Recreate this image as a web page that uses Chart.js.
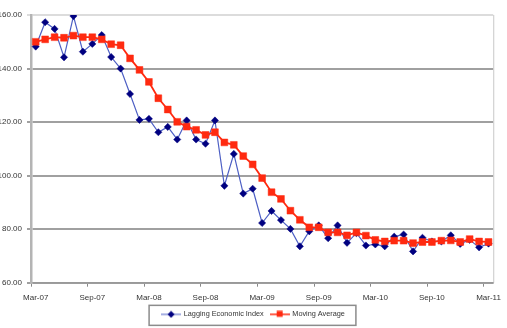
<!DOCTYPE html>
<html>
<head>
<meta charset="utf-8">
<script src="https://cdn.jsdelivr.net/npm/chart.js@4"></script>
<style>
  html, body { margin: 0; padding: 0; background: #fff; overflow: hidden; }
  #wrap { width: 507px; height: 328px; position: relative; }
</style>
</head>
<body>
<div id="wrap"><canvas id="chart" width="507" height="328"></canvas></div>
<script>
const months = [
    'Mar-07', 'Apr-07', 'May-07', 'Jun-07', 'Jul-07', 'Aug-07', 'Sep-07', 'Oct-07', 'Nov-07', 'Dec-07',
    'Jan-08', 'Feb-08', 'Mar-08', 'Apr-08', 'May-08', 'Jun-08', 'Jul-08', 'Aug-08', 'Sep-08', 'Oct-08',
    'Nov-08', 'Dec-08', 'Jan-09', 'Feb-09', 'Mar-09', 'Apr-09', 'May-09', 'Jun-09', 'Jul-09', 'Aug-09',
    'Sep-09', 'Oct-09', 'Nov-09', 'Dec-09', 'Jan-10', 'Feb-10', 'Mar-10', 'Apr-10', 'May-10', 'Jun-10',
    'Jul-10', 'Aug-10', 'Sep-10', 'Oct-10', 'Nov-10', 'Dec-10', 'Jan-11', 'Feb-11', 'Mar-11'
];

const laggingIndex = [
    148.2, 157.3, 154.8, 144.2, 159.6, 146.3, 149.2, 152.5, 144.3, 140.0,
    130.5, 120.8, 121.2, 116.2, 118.2, 113.5, 120.6, 113.5, 111.9, 120.6,
    96.2, 108.1, 93.3, 95.1, 82.3, 86.8, 83.4, 80.1, 73.6, 79.2,
    81.4, 76.6, 81.4, 74.9, 78.5, 73.9, 74.3, 73.6, 77.2, 78.0,
    71.7, 76.8, 75.4, 75.4, 77.7, 74.5, 76.0, 73.2, 74.6
];

const movingAverage = [
    150.0, 150.9, 151.7, 151.5, 152.3, 151.7, 151.7, 150.9, 149.1, 148.7,
    143.8, 139.5, 135.0, 128.9, 124.7, 120.1, 118.3, 117.1, 115.2, 116.2,
    112.4, 111.5, 107.3, 104.2, 99.1, 93.8, 91.3, 86.9, 83.5, 80.7,
    80.7, 78.8, 78.8, 77.7, 78.8, 77.6, 76.0, 75.4, 75.7, 75.7,
    74.8, 75.2, 75.2, 75.7, 75.8, 75.2, 76.3, 75.4, 75.2
];

const seriesNames = ['Lagging Economic Index', 'Moving Average'];

const BLUE_LINE = '#4d5fc4';
const BLUE_MARK = '#000080';
const RED = '#ff2a10';

// small legend icons: a line with the marker in the middle, like Excel
const legendIcon = (lineColor, markColor, shape) => {
    const c = document.createElement('canvas');
    c.width = 20;
    c.height = 8;
    const g = c.getContext('2d');
    g.strokeStyle = lineColor;
    g.lineWidth = shape === 'square' ? 1.5 : 1;
    g.beginPath();
    g.moveTo(0, 4);
    g.lineTo(20, 4);
    g.stroke();
    g.fillStyle = markColor;
    g.beginPath();
    if (shape === 'square') {
        g.rect(7, 0.5, 6, 6);
    } else {
        g.moveTo(10, 0.5);
        g.lineTo(13.5, 4);
        g.lineTo(10, 7.5);
        g.lineTo(6.5, 4);
        g.closePath();
    }
    g.fill();
    return c;
};

const frame = {
    id: 'frame',
    beforeDraw(chart) {
        // nudge the legend so it sits centred like the original
        const lg = chart.legend;
        if (!lg._nudged) {
            lg.left += 5;
            lg.right += 5;
            lg.legendHitBoxes.forEach(b => { b.left += 5; });
            lg._nudged = true;
        }
    },
    beforeDatasetsDraw(chart) {
        const { ctx, chartArea } = chart;
        ctx.save();
        ctx.strokeStyle = '#c8c8c8';
        ctx.lineWidth = 1;
        ctx.beginPath();
        ctx.moveTo(chartArea.right + 0.5, chartArea.top);
        ctx.lineTo(chartArea.right + 0.5, chartArea.bottom);
        ctx.stroke();
        ctx.restore();
    },
    afterDraw(chart) {
        const boxes = chart.legend.legendHitBoxes;
        if (!boxes || !boxes.length) return;
        const left = Math.min(...boxes.map(b => b.left)) - 13;
        const right = Math.max(...boxes.map(b => b.left + b.width)) + 11;
        const mid = boxes[0].top + boxes[0].height / 2 + 1;
        const ctx = chart.ctx;
        ctx.save();
        ctx.strokeStyle = '#8c8c8c';
        ctx.lineWidth = 1.5;
        ctx.strokeRect(left, mid - 10, right - left, 20);
        ctx.restore();
    }
};

const ctx = document.getElementById('chart').getContext('2d');
new Chart(ctx, {
    type: 'line',
    data: {
        labels: months,
        datasets: [{
            label: seriesNames[0],
            data: laggingIndex,
            borderColor: BLUE_LINE,
            borderWidth: 1.2,
            pointStyle: 'rectRot',
            pointRadius: 3.6,
            pointBackgroundColor: BLUE_MARK,
            pointBorderColor: BLUE_MARK,
            pointBorderWidth: 0.5,
            tension: 0,
            order: 2
        }, {
            label: seriesNames[1],
            data: movingAverage,
            borderColor: RED,
            borderWidth: 1.8,
            pointStyle: 'rect',
            pointRadius: 4.8,
            pointBackgroundColor: RED,
            pointBorderColor: RED,
            pointBorderWidth: 0.5,
            tension: 0,
            order: 1
        }]
    },
    options: {
        responsive: false,
        animation: false,
        events: [],
        layout: {
            padding: { top: 15, right: 10, left: 0, bottom: 0 }
        },
        plugins: {
            tooltip: { enabled: false },
            legend: {
                position: 'bottom',
                labels: {
                    usePointStyle: true,
                    pointStyleWidth: 18,
                    boxHeight: 7,
                    padding: 7,
                    color: '#333',
                    font: { family: 'Arial, "Liberation Sans"', size: 7.3 },
                    sort: (a, b) => a.datasetIndex - b.datasetIndex,
                    generateLabels: (chart) => chart.data.datasets.map((ds, i) => ({
                        text: ds.label,
                        datasetIndex: i,
                        pointStyle: i === 0 ? legendIcon(BLUE_LINE, BLUE_MARK, 'diamond') : legendIcon(RED, RED, 'square'),
                        fillStyle: 'transparent',
                        strokeStyle: 'transparent',
                        lineWidth: 0,
                        fontColor: '#333'
                    }))
                }
            }
        },
        scales: {
            x: {
                offset: true,
                afterFit: (scale) => { scale.height = 21; },
                grid: {
                    offset: true,
                    drawOnChartArea: false,
                    tickLength: 4,
                    color: (c) => (c.index % 6 === 0 ? '#888' : 'rgba(0,0,0,0)')
                },
                border: { color: '#999', width: 1.5 },
                ticks: {
                    autoSkip: false,
                    maxRotation: 0,
                    padding: 6,
                    color: '#333',
                    font: { family: 'Arial, "Liberation Sans"', size: 8 },
                    callback: function (value, index) {
                        return index % 6 === 0 ? this.getLabelForValue(value) : '';
                    }
                }
            },
            y: {
                min: 60,
                max: 160,
                afterFit: (scale) => { scale.width = 31; },
                grid: {
                    tickLength: 4,
                    lineWidth: 2,
                    color: (c) => (c.tick && c.tick.value === 160 ? '#dcdcdc' : '#a0a0a0')
                },
                border: { color: '#b4b4b4', width: 2.5 },
                ticks: {
                    stepSize: 20,
                    padding: 5,
                    color: '#333',
                    font: { family: 'Arial, "Liberation Sans"', size: 8 },
                    callback: (v) => v.toFixed(2)
                }
            }
        }
    },
    plugins: [frame]
});
</script>
</body>
</html>
